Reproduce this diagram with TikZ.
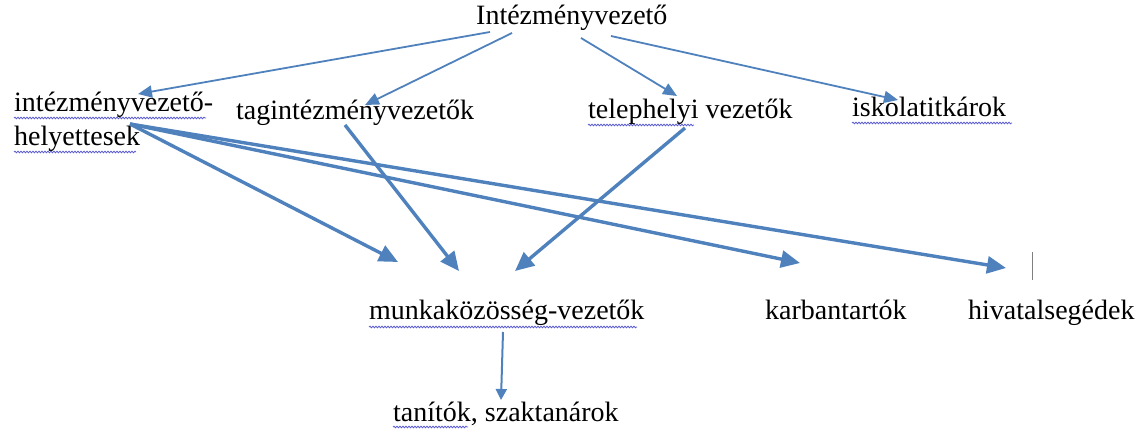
\documentclass[tikz,border=0pt]{standalone}
\usepackage{fontspec}
\setmainfont{Liberation Serif}
\usetikzlibrary{arrows.meta,decorations.pathmorphing}
\definecolor{arrowblue}{HTML}{4F81BD}
\definecolor{spell}{HTML}{5A5AD0}
\begin{document}
\begin{tikzpicture}[x=1pt,y=-1pt,
  lbl/.style={anchor=base west,inner sep=0pt,font=\fontsize{28}{32}\selectfont},
  thin/.style={draw=arrowblue,line width=1.8pt,-{Triangle[length=14pt,width=12pt]}},
  thick/.style={draw=arrowblue,line width=3.4pt,-{Triangle[length=19pt,width=17pt]}},
  wavy/.style={draw=spell,line width=0.8pt,decorate,decoration={snake,amplitude=0.8pt,segment length=3pt}}]
\useasboundingbox (0,0) rectangle (1136,430);
\node[lbl] (top) at (476,25) {Intézményvezető};
\node[lbl] (ivh1) at (14,112) {intézményvezető-};
\node[lbl] (ivh2) at (14,146) {helyettesek};
\node[lbl] (tag) at (236,120) {tagintézményvezetők};
\node[lbl] (tel) at (588,119) {telephelyi vezetők};
\node[lbl] (isk) at (852,117) {iskolatitkárok};
\node[lbl] (mk) at (369,320) {munkaközösség-vezetők};
\node[lbl] (karb) at (765,320) {karbantartók};
\node[lbl] (hiv) at (968,320) {hivatalsegédek};
\node[lbl] (tan) at (393,421) {tanítók, szaktanárok};
% wavy underlines
\draw[wavy] (14,118) -- (206,118);
\draw[wavy] (14,152) -- (136,152);
\draw[wavy] (588,125) -- (694,125);
\draw[wavy] (852,123) -- (1012,123);
\draw[wavy] (369,327) -- (637,327);
\draw[wavy] (393,427) -- (468,427);
% cursor
\draw[gray,line width=1pt] (1032,252) -- (1032,280);
% coordinates for connector ends
\coordinate (s1) at (490,32);
\coordinate (e1) at (138,94);
\coordinate (s2) at (512,33);
\coordinate (e2) at (365,105);
\coordinate (s3) at (581,38);
\coordinate (e3) at (677,96);
\coordinate (s4) at (611,36);
\coordinate (e4) at (898,100);
\draw[thin] (s1) -- (e1);
\draw[thin] (s2) -- (e2);
\draw[thin] (s3) -- (e3);
\draw[thin] (s4) -- (e4);
\coordinate (h) at (130,124);
\coordinate (e5) at (398,262);
\coordinate (t) at (345,125);
\coordinate (e6) at (459,271);
\coordinate (p) at (685,128);
\coordinate (e7) at (515,271);
\coordinate (e8) at (800,263);
\coordinate (e9) at (1006,268);
\draw[thick] (h) -- (e5);
\draw[thick] (t) -- (e6);
\draw[thick] (p) -- (e7);
\draw[thick] (h) -- (e8);
\draw[thick] (h) -- (e9);
\coordinate (m) at (503,332);
\coordinate (e10) at (501,400);
\draw[draw=arrowblue,line width=2pt,-{Triangle[length=11pt,width=11pt]}] (m) -- (e10);
\end{tikzpicture}
\end{document}
